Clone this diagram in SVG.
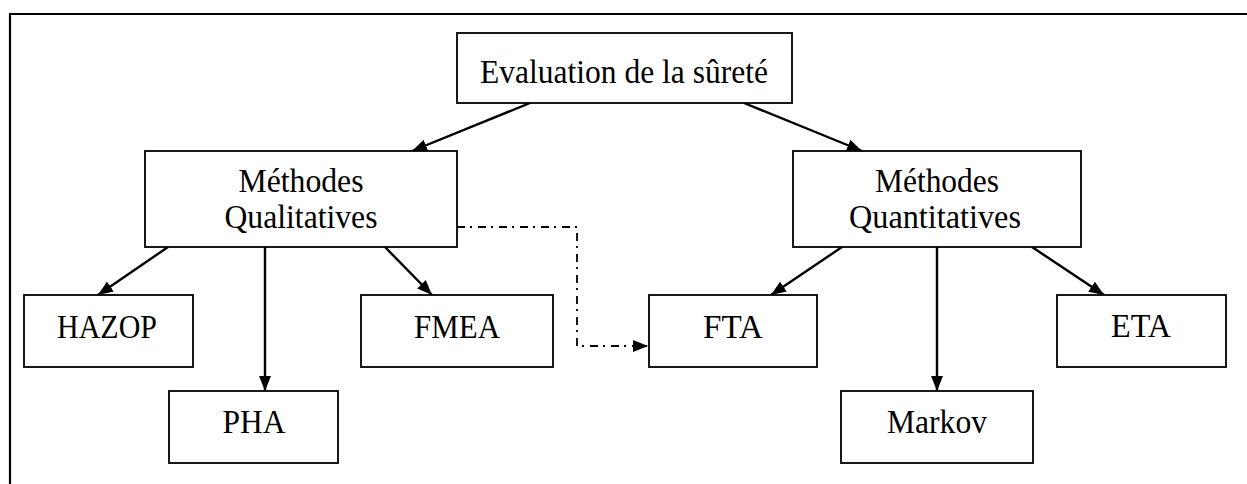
<svg xmlns="http://www.w3.org/2000/svg" width="1247" height="484" viewBox="0 0 1247 484">
  <style>
    .box { fill: #ffffff; stroke: #000000; stroke-width: 1.8; }
    .lbl { font-family: "Liberation Serif", "Times New Roman", serif; font-size: 34px; fill: #000000; text-anchor: middle; }
    .edge { fill: none; stroke: #000000; stroke-width: 2.4; }
    .dash { fill: none; stroke: #000000; stroke-width: 1.8; stroke-dasharray: 8 5 2 6; }
    .frame { fill: none; stroke: #000000; stroke-width: 2.2; }
  </style>
  <defs>
    <marker id="arrow" viewBox="0 0 15 12" refX="15" refY="6" markerWidth="15" markerHeight="12" markerUnits="userSpaceOnUse" orient="auto">
      <path d="M0,0 L15,6 L0,12 Z" fill="#000000"/>
    </marker>
  </defs>

  <!-- outer frame: top and left borders only -->
  <path class="frame" d="M10,484 L10,14 L1247,14"/>

  <!-- connectors -->
  <g id="connectors">
    <line class="edge" x1="530" y1="103" x2="412" y2="151" marker-end="url(#arrow)"/>
    <line class="edge" x1="744" y1="103" x2="862" y2="151" marker-end="url(#arrow)"/>
    <line class="edge" x1="168" y1="247" x2="98" y2="295" marker-end="url(#arrow)"/>
    <line class="edge" x1="265" y1="247" x2="265" y2="391" marker-end="url(#arrow)"/>
    <line class="edge" x1="385" y1="247" x2="432" y2="295" marker-end="url(#arrow)"/>
    <line class="edge" x1="842" y1="247" x2="771" y2="295" marker-end="url(#arrow)"/>
    <line class="edge" x1="937" y1="247" x2="937" y2="391" marker-end="url(#arrow)"/>
    <line class="edge" x1="1032" y1="247" x2="1104" y2="295" marker-end="url(#arrow)"/>
    <path class="dash" d="M457,227 L577,227 L577,346 L648,346" marker-end="url(#arrow)"/>
  </g>

  <g id="evaluation">
    <rect class="box" x="457" y="33" width="335" height="70"/>
    <text class="lbl" x="624" y="83" textLength="288" lengthAdjust="spacingAndGlyphs">Evaluation de la sûreté</text>
  </g>

  <g id="qualitatives">
    <rect class="box" x="145" y="151" width="312" height="96"/>
    <text class="lbl" x="301" y="192" textLength="125" lengthAdjust="spacingAndGlyphs">Méthodes</text>
    <text class="lbl" x="301" y="228" textLength="153" lengthAdjust="spacingAndGlyphs">Qualitatives</text>
  </g>

  <g id="quantitatives">
    <rect class="box" x="793" y="151" width="288" height="96"/>
    <text class="lbl" x="937" y="192" textLength="124" lengthAdjust="spacingAndGlyphs">Méthodes</text>
    <text class="lbl" x="935" y="228" textLength="172" lengthAdjust="spacingAndGlyphs">Quantitatives</text>
  </g>

  <g id="hazop">
    <rect class="box" x="24" y="295" width="169" height="72"/>
    <text class="lbl" x="107" y="338" textLength="100" lengthAdjust="spacingAndGlyphs">HAZOP</text>
  </g>

  <g id="pha">
    <rect class="box" x="169" y="391" width="169" height="72"/>
    <text class="lbl" x="254" y="433" textLength="63" lengthAdjust="spacingAndGlyphs">PHA</text>
  </g>

  <g id="fmea">
    <rect class="box" x="361" y="295" width="192" height="72"/>
    <text class="lbl" x="457" y="338" textLength="86" lengthAdjust="spacingAndGlyphs">FMEA</text>
  </g>

  <g id="fta">
    <rect class="box" x="649" y="295" width="168" height="72"/>
    <text class="lbl" x="733" y="338" textLength="60" lengthAdjust="spacingAndGlyphs">FTA</text>
  </g>

  <g id="markov">
    <rect class="box" x="841" y="391" width="192" height="72"/>
    <text class="lbl" x="937" y="433" textLength="100" lengthAdjust="spacingAndGlyphs">Markov</text>
  </g>

  <g id="eta">
    <rect class="box" x="1057" y="295" width="169" height="72"/>
    <text class="lbl" x="1141" y="337" textLength="60" lengthAdjust="spacingAndGlyphs">ETA</text>
  </g>
</svg>
